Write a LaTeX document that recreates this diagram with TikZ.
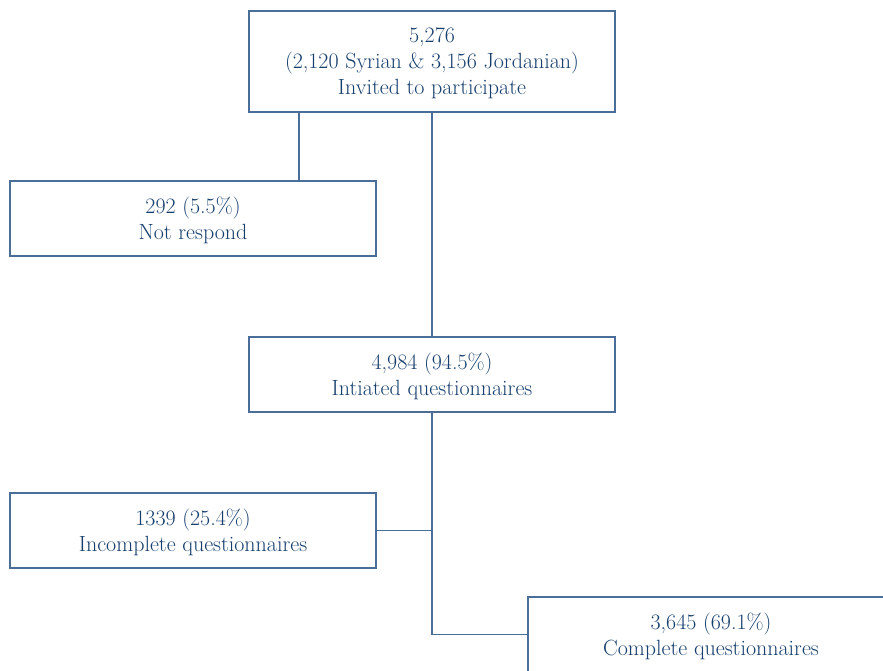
\documentclass[tikz,border=0pt]{standalone}
\usepackage{tikz}
\definecolor{boxline}{HTML}{4A6E98}
\definecolor{boxtext}{HTML}{173F6E}
\tikzset{
  flowbox/.style={draw=boxline, line width=1.5pt, fill=white, text=boxtext,
    minimum width=366pt, minimum height=75pt, inner sep=0pt, align=center,
    font=\fontsize{22}{26}\selectfont, text depth=-5pt},
  link/.style={boxline, line width=1.5pt}
}

\begin{document}
\begin{tikzpicture}[x=1pt,y=-1pt]
\useasboundingbox (0,0) rectangle (883,670);
\clip (0,0) rectangle (883,670);
 \begin{scope}
\node[flowbox, minimum height=101pt] (invited) at (432,61.5) {5,276\\(2,120 Syrian \& 3,156 Jordanian)\\Invited to participate};
\node[flowbox] (noresp) at (193,218.5) {292 (5.5\%)\\Not respond};
\node[flowbox] (initiated) at (432,374.5) {4,984 (94.5\%)\\Intiated questionnaires};
\node[flowbox] (incomplete) at (193,530.5) {1339 (25.4\%)\\Incomplete questionnaires};
\node[flowbox] (complete) at (711,634.5) {3,645 (69.1\%)\\Complete questionnaires};
\coordinate (split) at (299,112);
%\draw[link] (invited.south) -- (noresp.north);
\draw[link] (split) -- (split |- noresp.north);
\draw[link] (invited.south) -- (initiated.north);
\draw[link] (initiated.south) |- (complete.west);
\draw[link] (incomplete.east) -- (incomplete.east -| initiated.south);
\end{scope}
\end{tikzpicture}
\end{document}
